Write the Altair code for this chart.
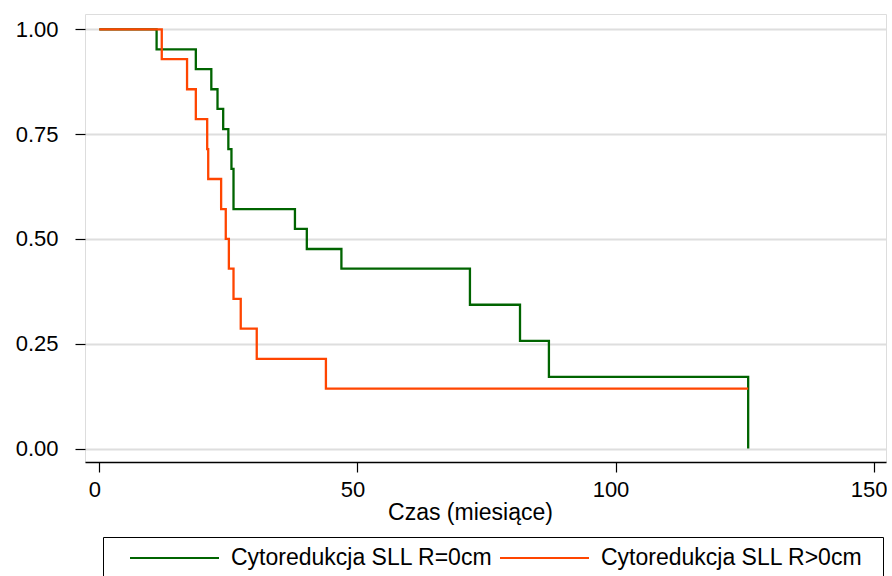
import altair as alt
import pandas as pd

# Kaplan-Meier step points (time in months, survival probability)
green_label = "Cytoredukcja SLL R=0cm"
orange_label = "Cytoredukcja SLL R>0cm"

green_time = [0, 11.1, 18.7, 21.7, 22.9, 24.0, 25.0, 25.6, 26.0, 37.9, 40.2, 46.9, 71.8, 81.5, 87.1, 125.7]
green_surv = [1.0, 0.952, 0.905, 0.857, 0.810, 0.762, 0.714, 0.667, 0.571, 0.524, 0.476, 0.429, 0.343, 0.257, 0.171, 0.0]

orange_time = [0, 12.1, 17.0, 18.7, 20.9, 21.1, 23.6, 24.5, 25.1, 26.0, 27.4, 30.5, 43.9, 125.7]
orange_surv = [1.0, 0.929, 0.857, 0.786, 0.714, 0.643, 0.571, 0.500, 0.429, 0.357, 0.286, 0.214, 0.143, 0.143]

x_ticks = [0, 50, 100, 150]
y_ticks = [0, 0.25, 0.5, 0.75, 1.0]

rows = []
for i, (t, s) in enumerate(zip(green_time, green_surv)):
    rows.append({"time": t, "surv": s, "group": green_label, "order": i})
for i, (t, s) in enumerate(zip(orange_time, orange_surv)):
    rows.append({"time": t, "surv": s, "group": orange_label, "order": i})
df = pd.DataFrame(rows)

FONT = "Liberation Sans"

chart = alt.Chart(df).mark_line(interpolate="step-after", strokeWidth=2.3).encode(
    x=alt.X("time:Q",
            scale=alt.Scale(domain=[-2.77, 152.4], nice=False, zero=False),
            axis=alt.Axis(values=x_ticks, title="Czas (miesiące)", grid=False,
                          tickSize=10, tickWidth=1.2, tickColor="black",
                          domain=True, domainColor="black", domainWidth=1.5,
                          labelFontSize=22, labelFont=FONT, labelColor="black",
                          labelPadding=7, labelFlush=False, labelOffset=-5,
                          titleFontSize=23, titleFont=FONT, titleFontWeight="normal",
                          titleColor="black", titlePadding=1,
                          titleX=385, titleAlign="center")),
    y=alt.Y("surv:Q",
            scale=alt.Scale(domain=[-0.032, 1.0365], nice=False, zero=False),
            axis=alt.Axis(values=y_ticks, format=".2f", title=None, grid=True,
                          gridColor="#DEDEDE", gridWidth=2,
                          tickSize=10, tickWidth=1.2, tickColor="black",
                          domain=False,
                          labelFontSize=22, labelFont=FONT, labelColor="black",
                          labelPadding=17, labelFlush=False)),
    color=alt.Color("group:N",
                    scale=alt.Scale(domain=[green_label, orange_label],
                                    range=["#006400", "#FF4500"]),
                    legend=alt.Legend(orient="none", legendX=18, legendY=523,
                                      direction="horizontal", title=None,
                                      symbolType="stroke", symbolSize=7921,
                                      symbolStrokeWidth=2, clipHeight=2,
                                      symbolOffset=6,
                                      labelFontSize=23, labelFont=FONT,
                                      labelColor="black", labelOffset=11,
                                      labelLimit=0, columnPadding=-4,
                                      strokeColor="black", padding=20)),
    order="order:Q",
).properties(
    width=801,
    height=448,
    autosize=alt.AutoSizeParams(type="none"),
    padding={"left": 85, "top": 14, "right": 1, "bottom": 114},
).configure_view(
    stroke="black", strokeWidth=1.5
).configure(background="white")

chart.save("out.html", embed_options={"renderer": "svg", "actions": False})
